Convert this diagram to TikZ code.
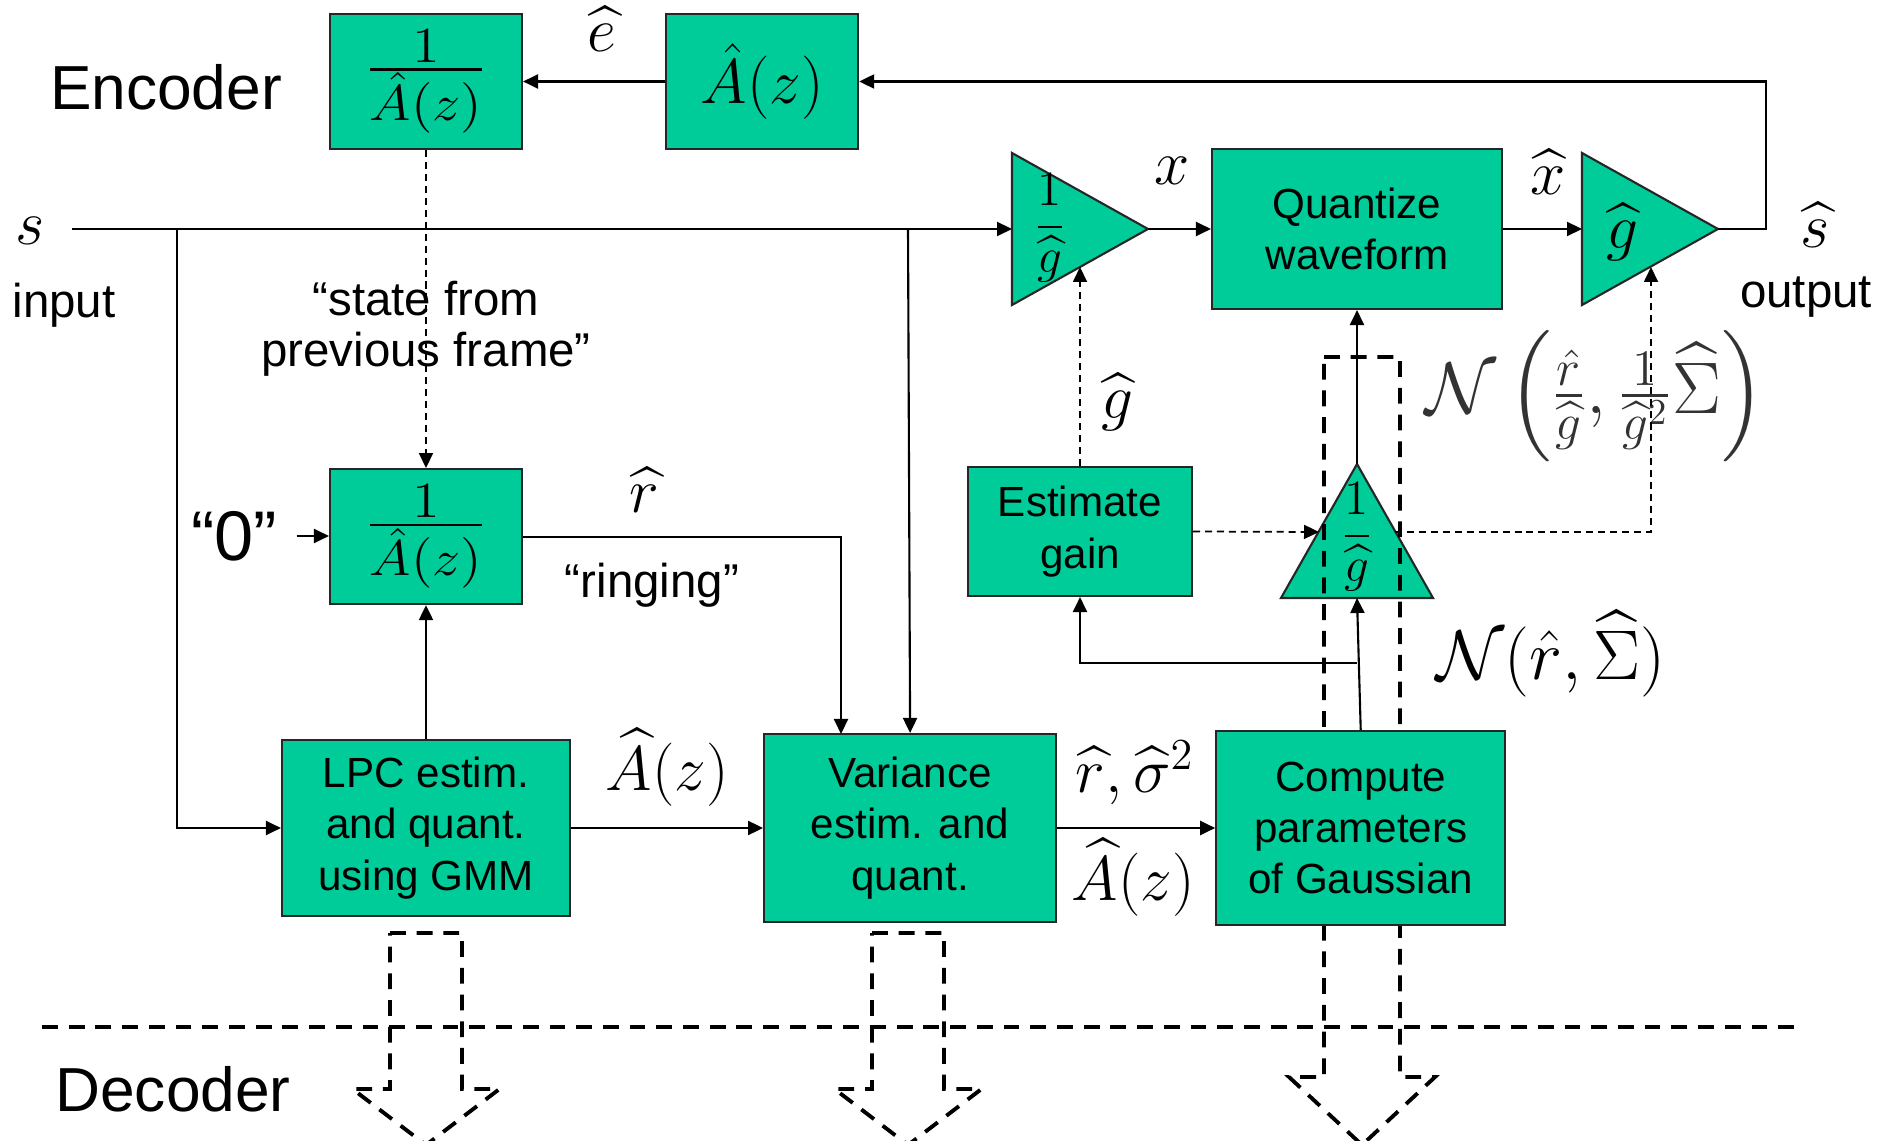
\RequirePackage{fix-cm}
\documentclass[tikz,border=0pt]{standalone}
\usepackage{amsmath}
\usepackage{fontspec}
\setsansfont{Liberation Sans}
\usetikzlibrary{positioning,arrows.meta}
\definecolor{boxgreen}{RGB}{0,204,153}
\newcommand{\invA}{\scalebox{1}[0.9]{$\frac{\textstyle 1}{\textstyle\hat{A}(z)}$}}

\begin{document}
\begin{tikzpicture}[font=\sffamily,>={Triangle[length=1.5mm,width=1.4mm]},
  blk/.style={rectangle,draw=black!85,line width=0.6pt,fill=boxgreen,align=center,inner sep=0pt,font=\sffamily\fontsize{12}{14.6}\selectfont},
  flt/.style={blk,minimum width=1.92cm,minimum height=1.35cm,font=\fontsize{16}{18}\selectfont},
  amp/.style={draw=black!85,line width=0.6pt,fill=boxgreen,line join=miter},
  ar/.style={->,line width=0.6pt},
  dar/.style={->,line width=0.5pt,dash pattern=on 2pt off 1.4pt},
  bigdash/.style={line width=1.1pt,dash pattern=on 4.5pt off 3.1pt},
  lbl/.style={inner sep=0pt,align=center,font=\sffamily\fontsize{13.5}{14.5}\selectfont},
  mth/.style={inner sep=0pt,font=\fontsize{18}{20}\selectfont}]
\useasboundingbox (0,0) rectangle (18.82,-11.41);
% gain triangles
\coordinate(t1w) at (10.12,-2.29);\coordinate(t1e) at (11.48,-2.29);\coordinate(t1s) at (10.80,-2.67);
\coordinate(t2w) at (15.82,-2.29);\coordinate(t2e) at (17.18,-2.29);\coordinate(t2s) at (16.51,-2.67);
\coordinate(t3n) at (13.57,-4.64);\coordinate(t3s) at (13.57,-5.98);
\coordinate(t3w) at (13.19,-5.32);\coordinate(t3e) at (13.95,-5.32);
\draw[amp](10.12,-1.53)--(t1e)--(10.12,-3.05)--cycle;
\draw[amp](15.82,-1.53)--(t2e)--(15.82,-3.05)--cycle;
\draw[amp](12.81,-5.98)--(t3n)--(14.33,-5.98)--cycle;
\node[inner sep=0pt,font=\fontsize{14}{16}\selectfont](g1) at (10.50,-2.28){$\displaystyle\frac{1}{\widehat{g}}$};
\node[mth](g2) at (16.22,-2.32){$\widehat{g}$};
\node[inner sep=0pt,font=\fontsize{14}{16}\selectfont](g3) at (13.57,-5.37){$\displaystyle\frac{1}{\widehat{g}}$};
% to the decoder
\draw[bigdash](3.90,-9.33)--(4.62,-9.33)--(4.62,-10.89)--(4.995,-10.89)--(4.26,-11.45)--(3.525,-10.89)--(3.90,-10.89)--cycle;
\draw[bigdash](8.72,-9.33)--(9.44,-9.33)--(9.44,-10.89)--(9.815,-10.89)--(9.08,-11.45)--(8.345,-10.89)--(8.72,-10.89)--cycle;
\draw[bigdash](13.24,-3.57)--(14.00,-3.57)--(14.00,-10.77)--(14.35,-10.77)--(13.62,-11.45)--(12.89,-10.77)--(13.24,-10.77)--cycle;
\draw[bigdash](0.42,-10.27)--(17.96,-10.27);
% blocks
\node[flt](inv1) at (4.26,-0.815){\invA};
\node[flt,right=1.42cm of inv1,font=\fontsize{18}{20}\selectfont](ahat){$\hat{A}(z)$};
\node[flt,below=3.18cm of inv1](inv2){\invA};
\node[blk,minimum width=2.88cm,minimum height=1.76cm](lpc) at (4.26,-8.28){LPC estim.\\and quant.\\using GMM};
\node[blk,minimum width=2.92cm,minimum height=1.88cm,right=1.92cm of lpc](var){Variance\\estim. and\\quant.};
\node[blk,minimum width=2.89cm,minimum height=1.94cm,right=1.58cm of var](comp){Compute\\parameters\\of Gaussian};
\node[blk,minimum width=2.90cm,minimum height=1.60cm](quant) at (13.57,-2.29){Quantize\\waveform};
\node[blk,minimum width=2.24cm,minimum height=1.29cm](est) at (10.80,-5.315){Estimate\\gain};
% labels
\node[lbl,anchor=base,font=\sffamily\fontsize{17.7}{20}\selectfont](enc) at (1.66,-1.10){Encoder};
\node[lbl,anchor=base,font=\sffamily\fontsize{17.7}{20}\selectfont](dec) at (1.73,-11.11){Decoder};
\node[mth,anchor=base](slbl) at (0.30,-2.45){$s$};
\node[lbl,anchor=base](inlbl) at (0.64,-3.18){input};
\node[lbl](state) at (4.26,-3.29){“state from\\previous frame”};
\node[mth,anchor=base](shat) at (18.15,-2.48){$\widehat{s}$};
\node[lbl,anchor=base](outlbl) at (18.06,-3.08){output};
\node[mth,anchor=base](xlbl) at (11.72,-1.85){$x$};
\node[mth,anchor=base](xhat) at (15.48,-1.95){$\widehat{x}$};
\node[mth,anchor=base](ehat) at (6.02,-0.52){$\widehat{e}$};
\node[mth,anchor=base](ghat) at (11.17,-4.19){$\widehat{g}$};
\node[lbl,inner xsep=1.9mm,font=\sffamily\fontsize{20}{22}\selectfont](zero) at (2.34,-5.36){“0”};
\node[mth,anchor=base](rhat) at (6.44,-5.13){$\widehat{r}$};
\node[lbl,anchor=base](ring) at (6.52,-5.98){“ringing”};
\node[mth,anchor=base](a1) at (6.67,-7.90){$\widehat{A}(z)$};
\node[mth,anchor=base](rs) at (11.35,-7.92){$\widehat{r},\widehat{\sigma}^2$};
\node[mth,anchor=base](a2) at (11.33,-9.00){$\widehat{A}(z)$};
\node[mth,anchor=base,font=\fontsize{20}{22}\selectfont](nsm) at (15.51,-6.80){$\mathcal{N}(\hat{r},\widehat{\Sigma})$};
\node[mth,anchor=base,text=black!80,font=\fontsize{20.8}{23}\selectfont](nbig) at (15.95,-4.14){$\mathcal{N}\left(\frac{\hat{r}}{\widehat{g}},\frac{1}{\widehat{g}^2}\widehat{\Sigma}\right)$};
% connections
\coordinate(sin) at (0.72,-2.29);\coordinate(br1) at (1.77,-2.29);\coordinate(br2) at (9.08,-2.29);
\coordinate(fb) at (17.66,-2.29);\coordinate(rin) at (8.41,-7.34);\coordinate(brg) at (13.57,-6.63);
\draw[ar](sin)--(t1w);\draw[ar](br1)|-(lpc.west);\draw[ar](br2)--(var.north);
\draw[ar](t1e)--(quant.west);\draw[ar](quant.east)--(t2w);\draw[ar](t2e)--(fb)|-(ahat.east);
\draw[ar](ahat)--(inv1);\draw[dar](inv1)--(inv2);\draw[ar](zero.east)--(zero.east-|inv2.west);
\draw[ar](inv2.east)-|(rin);\draw[ar](lpc)--(inv2);
\draw[ar](lpc)--(var);\draw[ar](var)--(comp);
\draw[ar](comp.north)--(t3s);\draw[ar](brg)-|(est.south);\draw[ar](t3n)--(quant.south);
\draw[dar](est.north)--(t1s);\draw[dar](est.east)--(t3w);\draw[dar](t3e)-|(t2s);
\end{tikzpicture}
\end{document}
